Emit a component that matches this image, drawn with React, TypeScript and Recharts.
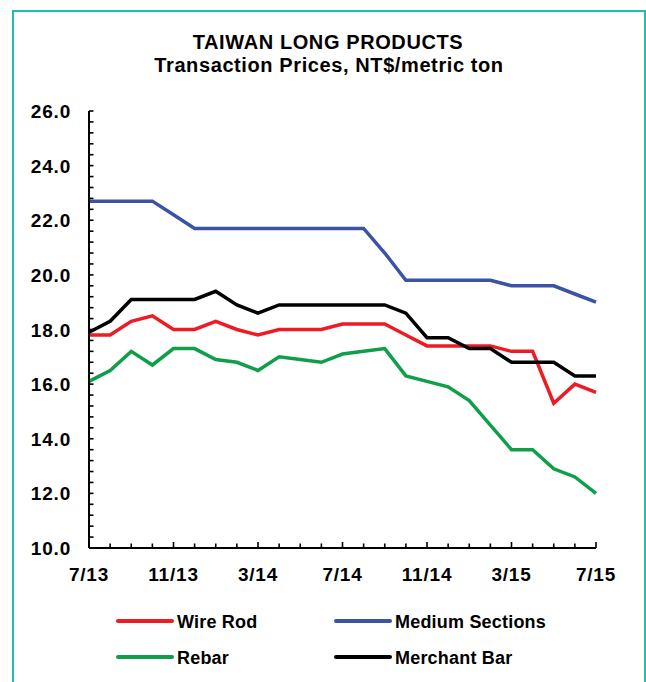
import React from 'react';
import { LineChart, Line, XAxis, YAxis } from 'recharts';

const months = [
  '7/13', '8/13', '9/13', '10/13', '11/13', '12/13', '1/14', '2/14', '3/14',
  '4/14', '5/14', '6/14', '7/14', '8/14', '9/14', '10/14', '11/14', '12/14',
  '1/15', '2/15', '3/15', '4/15', '5/15', '6/15', '7/15',
];
const xTickLabels = ['7/13', '11/13', '3/14', '7/14', '11/14', '3/15', '7/15'];

const yTicks = [
  10, 10.4, 10.8, 11.2, 11.6, 12, 12.4, 12.8, 13.2, 13.6, 14, 14.4, 14.8, 15.2,
  15.6, 16, 16.4, 16.8, 17.2, 17.6, 18, 18.4, 18.8, 19.2, 19.6, 20, 20.4, 20.8,
  21.2, 21.6, 22, 22.4, 22.8, 23.2, 23.6, 24, 24.4, 24.8, 25.2, 25.6, 26,
];
const yTickLabels = ['10.0', '12.0', '14.0', '16.0', '18.0', '20.0', '22.0', '24.0', '26.0'];

const wireRod = [17.8, 17.8, 18.3, 18.5, 18.0, 18.0, 18.3, 18.0, 17.8, 18.0, 18.0, 18.0, 18.2, 18.2, 18.2, 17.8, 17.4, 17.4, 17.4, 17.4, 17.2, 17.2, 15.3, 16.0, 15.7];
const mediumSections = [22.7, 22.7, 22.7, 22.7, 22.2, 21.7, 21.7, 21.7, 21.7, 21.7, 21.7, 21.7, 21.7, 21.7, 20.8, 19.8, 19.8, 19.8, 19.8, 19.8, 19.6, 19.6, 19.6, 19.3, 19.0];
const rebar = [16.1, 16.5, 17.2, 16.7, 17.3, 17.3, 16.9, 16.8, 16.5, 17.0, 16.9, 16.8, 17.1, 17.2, 17.3, 16.3, 16.1, 15.9, 15.4, 14.5, 13.6, 13.6, 12.9, 12.6, 12.0];
const merchantBar = [17.9, 18.3, 19.1, 19.1, 19.1, 19.1, 19.4, 18.9, 18.6, 18.9, 18.9, 18.9, 18.9, 18.9, 18.9, 18.6, 17.7, 17.7, 17.3, 17.3, 16.8, 16.8, 16.8, 16.3, 16.3];

const seriesKeys = ['wireRod', 'mediumSections', 'rebar', 'merchantBar'];
const seriesNames = ['Wire Rod', 'Medium Sections', 'Rebar', 'Merchant Bar'];
const seriesColors = ['#ED1C24', '#3A53A4', '#0F9F4A', '#000000'];
const seriesValues = [wireRod, mediumSections, rebar, merchantBar];

const data = months.map((m, i) => {
  const row: Record<string, any> = { month: m };
  seriesKeys.forEach((k, s) => {
    row[k] = seriesValues[s][i];
  });
  return row;
});

const FONT = '"Liberation Sans", Arial, Helvetica, sans-serif';

const YTick = (props: any) => {
  const { x, y, payload } = props;
  const v = payload.value;
  const label = yTickLabels.find((l) => Math.abs(parseFloat(l) - v) < 1e-6);
  return (
    <g>
      <line x1={x} x2={x + 4.5} y1={y} y2={y} stroke="#000" strokeWidth={1.6} />
      {label && (
        <text
          x={x - 18}
          y={y + 7}
          textAnchor="end"
          fontFamily={FONT}
          fontWeight="bold"
          fontSize={19}
          letterSpacing={0.8}
          fill="#000"
        >
          {label}
        </text>
      )}
    </g>
  );
};

const XTick = (props: any) => {
  const { x, y, payload } = props;
  const label = xTickLabels.includes(payload.value) ? payload.value : null;
  return (
    <g>
      <line x1={x} x2={x} y1={y} y2={y - (label ? 6 : 4.5)} stroke="#000" strokeWidth={1.6} />
      {label && (
        <text
          x={x}
          y={y + 33}
          textAnchor="middle"
          fontFamily={FONT}
          fontWeight="bold"
          fontSize={19}
          letterSpacing={0.8}
          fill="#000"
        >
          {label}
        </text>
      )}
    </g>
  );
};

const legendPos = [
  { lx: 118, ly: 621 },
  { lx: 336, ly: 621 },
  { lx: 118, ly: 657 },
  { lx: 336, ly: 657 },
];

export default function App() {
  return (
    <div
      style={{
        position: 'fixed',
        left: 0,
        top: 0,
        width: 646,
        height: 682,
        background: '#fff',
        overflow: 'hidden',
      }}
    >
      <div
        style={{
          position: 'absolute',
          left: 12,
          top: 9.5,
          width: 633.5,
          height: 700,
          borderTop: '2.7px solid #1DBFB6',
          borderLeft: '2.7px solid #1DBFB6',
          borderRight: '2.7px solid #1DBFB6',
          boxSizing: 'border-box',
        }}
      />
      <svg width={646} height={682} style={{ position: 'absolute', left: 0, top: 0 }}>
        <text x={328} y={48.5} textAnchor="middle" fontFamily={FONT} fontWeight="bold" fontSize={20} letterSpacing={0.6} fill="#000">
          TAIWAN LONG PRODUCTS
        </text>
        <text x={329} y={71.7} textAnchor="middle" fontFamily={FONT} fontWeight="bold" fontSize={20} letterSpacing={0.6} fill="#000">
          Transaction Prices, NT$/metric ton
        </text>
        {seriesNames.map((n, i) => (
          <g key={n}>
            <line
              x1={legendPos[i].lx}
              x2={legendPos[i].lx + 54}
              y1={legendPos[i].ly}
              y2={legendPos[i].ly}
              stroke={seriesColors[i]}
              strokeWidth={4}
              strokeLinecap="round"
            />
            <text
              x={legendPos[i].lx + 59}
              y={legendPos[i].ly + 6.5}
              fontFamily={FONT}
              fontWeight="bold"
              fontSize={18}
              letterSpacing={0.2}
              fill="#000"
            >
              {n}
            </text>
          </g>
        ))}
      </svg>
      <div style={{ position: 'absolute', left: 0, top: 0 }}>
        <LineChart width={646} height={682} data={data} margin={{ top: 111, right: 50, bottom: 104, left: 0 }}>
          <XAxis
            dataKey="month"
            interval={0}
            tickSize={0}
            tickMargin={0}
            tickLine={false}
            tick={<XTick />}
            axisLine={{ stroke: '#000', strokeWidth: 2 }}
            height={30}
          />
          <YAxis
            type="number"
            domain={[10, 26]}
            ticks={yTicks}
            interval={0}
            width={89}
            tickSize={0}
            tickMargin={0}
            tickLine={false}
            tick={<YTick />}
            axisLine={{ stroke: '#000', strokeWidth: 2 }}
          />
          {seriesKeys.map((k, i) => (
            <Line
              key={k}
              dataKey={k}
              name={seriesNames[i]}
              type="linear"
              stroke={seriesColors[i]}
              strokeWidth={3.5}
              dot={false}
              activeDot={false}
              isAnimationActive={false}
            />
          ))}
        </LineChart>
      </div>
    </div>
  );
}
